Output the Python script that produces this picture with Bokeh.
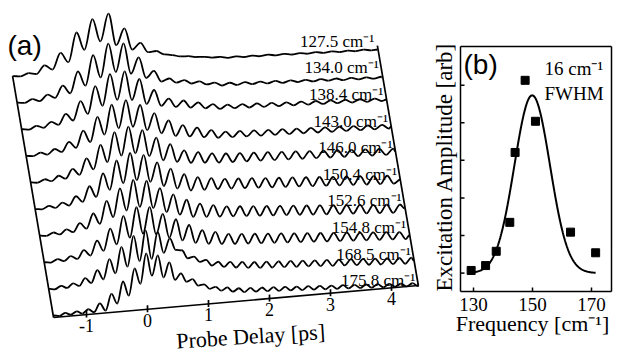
import numpy as np
from bokeh.plotting import figure
from bokeh.models import ColumnDataSource, Range1d
from bokeh.core.properties import value
from bokeh.embed import file_html
from bokeh.resources import INLINE

# ---------------- panel (a) data ----------------
# excitation frequencies, top trace first (cm^-1)
freqs = [127.5, 134.0, 138.4, 143.0, 146.0, 150.4, 152.6, 154.8, 168.5, 175.8]
labels = ["127.5 cm⁻¹", "134.0 cm⁻¹", "138.4 cm⁻¹", "143.0 cm⁻¹", "146.0 cm⁻¹",
          "150.4 cm⁻¹", "152.6 cm⁻¹", "154.8 cm⁻¹", "168.5 cm⁻¹", "175.8 cm⁻¹"]

# signal at successive extrema (every half period from the left edge), last value = right edge
trace_127_5 = [0, -1, 1.5, 0, 8, 3, 19, 9, 38, 20, 50, 27, 54, 22, 38, 16, 22, 12, 12.5, 8.5,
               7, 5, 4.5, 3, 2.5, 1, 1, -0.6, 0.1, -1.2, -0.5, -1.8, -1.0, -2.3, -1.6, -2.9,
               -2.2, -3.5, -2.7, -4.0, -3.3, -4.6, -3.9, -5.2, -4.4, -5.7, -5.4]
trace_134_0 = [0, -0.9, 2.3, -0.4, 5.4, 1.5, 13, 4.8, 26, 11, 41, 18, 51, 22, 50, 19, 34.6, 13.4,
               19.8, 8.5, 10.9, 6.1, 8, 3.9, 5.3, 1.6, 2.7, -0.8, 1.3, -1.5, 0.6, -2.1, -0.2,
               -2.7, -0.9, -3.4, -1.6, -4, -2.4, -4.7, -3.1, -5.3, -3.8, -6, -4.5, -6.6, -5.3,
               -7.3, -6, -6.8]
trace_138_4 = [0, -0.9, 2.2, -0.4, 4.9, 1.2, 11.5, 4.3, 23, 9.6, 36.7, 16.4, 47.4, 21, 49, 19.6,
               40, 14.3, 27.7, 11.2, 17.7, 8.8, 14.6, 6.9, 11.5, 4.9, 8.4, 3, 6.6, 2.4, 5.9, 1.8,
               5.2, 1.2, 4.5, 0.7, 3.8, 0.1, 3.2, -0.5, 2.5, -1.1, 1.8, -1.6, 1.1, -2.2, 0.4,
               -2.8, -0.3, -3.3, -2.2]
trace_143_0 = [0, -0.8, 2, -0.5, 4.4, 0.9, 10.3, 3.7, 20.2, 8.2, 32.8, 14.4, 43.8, 19.5, 47, 19.8,
               40.9, 15.1, 31.6, 10.8, 23, 6.9, 17, 5.1, 13.3, 3.2, 9.5, 1.3, 6.8, 0.6, 6.2, 0.1,
               5.5, -0.3, 4.9, -0.8, 4.3, -1.3, 3.6, -1.7, 3, -2.2, 2.4, -2.7, 1.7, -3.1, 1.1,
               -3.6, 0.5, -4.1, -0.2, -4.5, -2.6]
trace_146_0 = [0, -0.8, 2, -0.5, 4.3, 0.8, 9.9, 3.4, 19.3, 7.7, 31.6, 13.7, 43, 18.9, 47.4, 20,
               42.5, 16, 33.9, 10.6, 26.2, 7.8, 18.7, 5.6, 15.8, 4.5, 13.3, 3.4, 11.9, 2.8, 11.1,
               2.2, 10.3, 1.7, 9.5, 1.1, 8.7, 0.5, 7.9, -0.1, 7, -0.7, 6.2, -1.3, 5.4, -1.9, 4.6,
               -2.4, 3.8, -3, 3, -3.6, 2.1, -1]
trace_150_4 = [0, -0.8, 2, -0.5, 4.1, 0.6, 9.3, 3, 18.1, 6.9, 29.8, 12.7, 41.5, 18.1, 47.8, 20,
               44.7, 17.1, 36, 11.8, 28.6, 8.1, 22, 4.9, 17.8, 4.5, 15.5, 4.1, 13.7, 3.4, 12.8,
               2.6, 11.9, 1.8, 10.9, 1, 10, 0.2, 9.1, -0.5, 8.1, -1.3, 7.2, -2.1, 6.2, -2.9, 5.3,
               -3.7, 4.4, -4.5, 3.4, -5.2, 2.5, -6, -2.4]
trace_152_6 = [0, -0.8, 2, -0.5, 4, 0.6, 9, 2.9, 17.5, 6.6, 28.9, 12.2, 40.4, 17.6, 47.7, 20,
               45.6, 17.7, 37.1, 12.6, 29.6, 8.7, 23.1, 5.4, 18, 4.3, 15.4, 3.3, 12.9, 2.5, 11.9,
               1.6, 10.9, 0.7, 9.8, -0.2, 8.8, -1, 7.8, -1.9, 6.8, -2.8, 5.7, -3.7, 4.7, -4.5,
               3.7, -5.4, 2.7, -6.3, 1.6, -7.2, 0.6, -8.1, -0.4, -4.8]
trace_154_8 = [0, -0.8, 2, -0.5, 3.9, 0.5, 8.7, 2.7, 17, 6.3, 28, 11.7, 39.5, 17.2, 47, 20, 46.2,
               18.1, 38, 13.8, 31.5, 9.8, 24.6, 6.1, 18.3, 4.1, 15.4, 2.8, 12.3, 1.7, 11.1, 0.9,
               10.1, 0.1, 9.1, -0.7, 8.1, -1.4, 7.1, -2.2, 6.1, -3, 5.1, -3.8, 4.1, -4.6, 3.1,
               -5.4, 2.1, -6.2, 1.1, -6.9, 0.1, -7.7, -0.9, -8.5, -5.2]
trace_168_5 = [0, -0.9, 2, -0.6, 3.5, 0.3, 7.5, 2.1, 14.5, 4.9, 24.4, 9.7, 35.7, 15.3, 45.6, 19.8,
               50, 21, 47.4, 25.9, 40, 27.8, 27, 18.4, 19.6, 13.7, 15.3, 9, 12.3, 6.6, 11.2, 5, 10,
               3.6, 8.9, 2.5, 8.2, 1.8, 7.5, 1.1, 6.8, 0.4, 6, -0.3, 5.3, -1, 4.6, -1.8, 3.9,
               -2.5, 3.2, -3.2, 2.4, -3.9, 1.7, -4.7, 1, -5.4, 0.3, -6.1, -0.5, -3.6]
trace_175_8 = [0, -0.9, 1.5, -0.7, 2.1, -0.6, 3.2, -0.3, 8, 0.4, 16.5, 6.4, 27.9, 13.3, 39.9,
               24.1, 54, 31.2, 50.9, 28.4, 42.9, 24.9, 31, 22.1, 24.1, 17.2, 18, 13, 14.5, 10.1,
               12.8, 8.1, 11, 6.7, 10.3, 6.1, 9.7, 5.5, 9, 4.9, 8.3, 4.3, 7.6, 3.6, 7, 3, 6.3,
               2.4, 5.6, 1.8, 4.9, 1.2, 4.2, 0.6, 3.6, -0.1, 2.9, -0.7, 2.2, -1.3, 1.5, -1.9, 0.8,
               -2.5, -1]
traces = [trace_127_5, trace_134_0, trace_138_4, trace_143_0, trace_146_0,
          trace_150_4, trace_152_6, trace_154_8, trace_168_5, trace_175_8]

delay_ticks = [-1, 0, 1, 2, 3, 4]
T_LEFT, T_RIGHT = -1.54, 4.44

# ---------------- panel (b) data (as read against the printed frequency axis) ----------------
point_freq = [129.2, 134.1, 137.7, 142.3, 144.1, 147.5, 151.0, 162.9, 171.4]
point_amp = [0.07, 0.20, 0.58, 1.35, 3.21, 5.13, 4.04, 1.09, 0.54]
FIT_CENTER, FIT_WIDTH, FIT_AMP = 149.9, 14.2, 4.73   # drawn Gaussian (width as drawn)
FIT_SPAN = (129.2, 171.4)
freq_ticks = [130, 150, 170]
amp_ticks = [0, 1, 2, 3, 4, 5]
FREQ_LIM = (125.59, 176.78)
AMP_LIM = (-0.49, 6.03)

# ---------------- canvas / projection ----------------
W, H = 621, 356
PX_PER_PS = 61.0
XMIN = -147.0 / PX_PER_PS
K_SHIFT = 4.55 / PX_PER_PS
SLOPE, Y0, DY = 5.35, 49.24, 26.6

# panel (b) frame, canvas pixels (left, right, top, bottom)
BL, BR, BT, BB = 460.0, 611.0, 46.0, 291.0
fx_per_px = (FREQ_LIM[1] - FREQ_LIM[0]) / (BR - BL)
ay_per_px = (AMP_LIM[1] - AMP_LIM[0]) / (BB - BT)


def proj(t, k, v):
    return t - K_SHIFT * k, Y0 + SLOPE * t + DY * k + v


def half_period(f):
    return 1.0 / (2.0 * 0.0299792458 * f)


SERIF = "Liberation Serif"
SANS = "Liberation Sans"

p = figure(width=W, height=H, x_range=Range1d(XMIN, XMIN + W / PX_PER_PS),
           y_range=Range1d(0, H), output_backend="svg", toolbar_location=None,
           x_axis_location=None, y_axis_location=None, min_border=0,
           outline_line_color=None)
p.grid.visible = False
p.extra_x_ranges = {"fb": Range1d(FREQ_LIM[0] - BL * fx_per_px, FREQ_LIM[1] + (W - BR) * fx_per_px)}
p.extra_y_ranges = {"ab": Range1d(AMP_LIM[0] - (H - BB) * ay_per_px, AMP_LIM[1] + BT * ay_per_px)}

# ---------------- panel (a) ----------------
nk = len(freqs)
segs = {key: [] for key in ("x0", "y0", "x1", "y1", "cx0", "cy0", "cx1", "cy1")}
for i_top, (f, vals) in enumerate(zip(freqs, traces)):
    k = nk - 1 - i_top
    h = half_period(f)
    n_fit = int(np.floor((T_RIGHT - T_LEFT) / h + 1e-9)) + 1
    m = min(len(vals) - 1, n_fit)
    ts = [T_LEFT + j * h for j in range(m)] + [T_RIGHT]
    vs = list(vals[:m]) + [vals[-1]]
    for i in range(len(ts) - 1):
        ta, tb, va, vb = ts[i], ts[i + 1], vs[i], vs[i + 1]
        d = 0.3634 * (tb - ta)
        for nx, ny, t, v in (("x0", "y0", ta, va), ("x1", "y1", tb, vb),
                             ("cx0", "cy0", ta + d, va), ("cx1", "cy1", tb - d, vb)):
            X, Y = proj(t, k, v)
            segs[nx].append(X)
            segs[ny].append(Y)

p.bezier(x0="x0", y0="y0", x1="x1", y1="y1", cx0="cx0", cy0="cy0", cx1="cx1", cy1="cy1",
         source=ColumnDataSource(segs), line_color="black", line_width=1.8)

fx0, fy0, fx1, fy1 = [], [], [], []
for (ta, ka, va), (tb, kb, vb) in [((T_LEFT, 0, -2), (T_LEFT, nk - 1, 0)),
                                   ((T_RIGHT, 0, -2), (T_RIGHT, nk - 1, -1.5)),
                                   ((T_LEFT, 0, -2), (T_RIGHT, 0, -2))] + \
                                  [((tv, 0, -5), (tv, 0, 2)) for tv in delay_ticks]:
    a = proj(ta, ka, va)
    b = proj(tb, kb, vb)
    fx0.append(a[0]); fy0.append(a[1]); fx1.append(b[0]); fy1.append(b[1])
p.segment(fx0, fy0, fx1, fy1, line_color="black", line_width=1.7)

tl = [proj(tv, 0, -13) for tv in delay_ticks]
p.text([q[0] for q in tl], [q[1] for q in tl], text=[str(tv) for tv in delay_ticks],
       text_font=value(SERIF), text_font_size="18px", text_align="center",
       text_baseline="middle", text_color="black")

ll = [proj(T_RIGHT - 0.05, nk - 1 - i, 3) for i in range(nk)]
p.text([q[0] for q in ll], [q[1] for q in ll], text=labels, text_font=value(SERIF),
       text_font_size="17px", text_align="right", text_baseline="alphabetic",
       text_color="black")

tx, ty = proj(1.69, 0, -38)
p.text([tx], [ty], text=["Probe Delay [ps]"], text_font=value(SERIF), text_font_size="22px",
       text_align="center", text_baseline="middle", angle=0.063, text_color="black")

p.text([XMIN + 7.0 / PX_PER_PS], [H - 29], text=["(a)"], text_font=value(SANS),
       text_font_size="28px", text_align="left", text_baseline="top", text_color="black")

# ---------------- panel (b) ----------------
RB = dict(x_range_name="fb", y_range_name="ab")
f0, f1 = FREQ_LIM
a0, a1 = AMP_LIM
bx0 = [f0, f1, f0, f0] + freq_ticks + [f0] * len(amp_ticks)
bx1 = [f1, f1, f1, f0] + freq_ticks + [f0 + 4 * fx_per_px] * len(amp_ticks)
by0 = [a0, a0, a1, a0] + [a0] * len(freq_ticks) + amp_ticks
by1 = [a0, a1, a1, a1] + [a0 + 4 * ay_per_px] * len(freq_ticks) + amp_ticks
p.segment(bx0, by0, bx1, by1, line_color="black", line_width=1.5, **RB)

fgrid = np.linspace(FIT_SPAN[0], FIT_SPAN[1], 240)
fit = FIT_AMP * np.exp(-4.0 * np.log(2.0) * (fgrid - FIT_CENTER) ** 2 / FIT_WIDTH ** 2)
p.line(fgrid, fit, line_color="black", line_width=2, **RB)
p.scatter(point_freq, point_amp, marker="square", size=8, color="black", **RB)

p.text(freq_ticks, [a0 - 6 * ay_per_px] * len(freq_ticks), text=[str(v) for v in freq_ticks],
       text_font=value(SERIF), text_font_size="19px", text_align="center",
       text_baseline="top", text_color="black", **RB)
p.text([f0 + 72 * fx_per_px], [a0 - 32 * ay_per_px], text=["Frequency [cm⁻¹]"],
       text_font=value(SERIF), text_font_size="22px", text_align="center",
       text_baseline="middle", text_color="black", **RB)
p.text([f0 - 16 * fx_per_px], [(a0 + a1) / 2 + 2 * ay_per_px], text=["Excitation Amplitude [arb]"],
       text_font=value(SERIF), text_font_size="23px", text_align="center",
       text_baseline="middle", angle=np.pi / 2, text_color="black", **RB)
p.text([f0 + 3 * fx_per_px], [a1 - 2 * ay_per_px], text=["(b)"], text_font=value(SANS),
       text_font_size="28px", text_align="left", text_baseline="top", text_color="black", **RB)
p.text([f0 + 84 * fx_per_px] * 2, [a1 - 22 * ay_per_px, a1 - 47 * ay_per_px],
       text=["16 cm⁻¹", "FWHM"], text_font=value(SERIF), text_font_size="19px",
       text_align="left", text_baseline="alphabetic", text_color="black", **RB)

open("out.html", "w").write(file_html(p, INLINE, "chart"))
